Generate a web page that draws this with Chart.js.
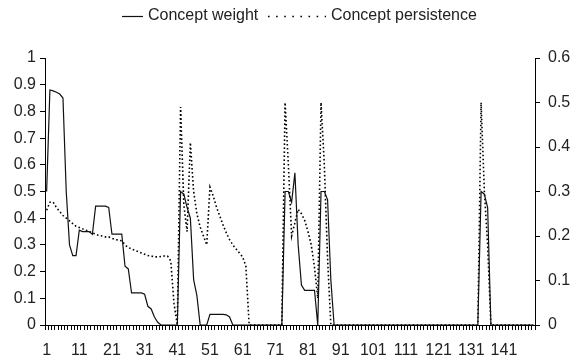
<!DOCTYPE html>
<html>
<head>
<meta charset="utf-8">
<script src="https://cdn.jsdelivr.net/npm/chart.js@4.4.1/dist/chart.umd.min.js"></script>
<style>
  html, body { margin: 0; padding: 0; background: #fff; }
  #wrap { width: 573px; height: 360px; position: relative; }
</style>
</head>
<body>
<div id="wrap"><canvas id="c" width="573" height="360"></canvas></div>
<script>
// ---- data ----
const categories = Array.from({ length: 150 }, (_, i) => String(i + 1));
const xTickLabels = ['1','11','21','31','41','51','61','71','81','91','101','111','121','131','141'];
const leftTicks = [0, 0.1, 0.2, 0.3, 0.4, 0.5, 0.6, 0.7, 0.8, 0.9, 1];
const rightTicks = [0, 0.1, 0.2, 0.3, 0.4, 0.5, 0.6];
const seriesNames = ['Concept weight', 'Concept persistence'];

const conceptWeight = [
  0.50, 0.88, 0.877, 0.872, 0.865, 0.85, 0.50, 0.30, 0.26, 0.26,
  0.355, 0.35, 0.35, 0.35, 0.34, 0.445, 0.445, 0.445, 0.445, 0.44,
  0.34, 0.34, 0.34, 0.34, 0.22, 0.21, 0.12, 0.12, 0.12, 0.12,
  0.115, 0.07, 0.06, 0.03, 0.01, 0, 0, 0, 0, 0,
  0, 0.50, 0.49, 0.44, 0.40, 0.17, 0.11, 0, 0, 0,
  0.04, 0.04, 0.04, 0.04, 0.04, 0.038, 0.03, 0, 0, 0,
  0, 0, 0, 0, 0, 0, 0, 0, 0, 0,
  0, 0, 0, 0.50, 0.50, 0.46, 0.57, 0.30, 0.15, 0.13,
  0.13, 0.13, 0.13, 0, 0.50, 0.50, 0.47, 0.17, 0, 0,
  0, 0, 0, 0, 0, 0, 0, 0, 0, 0,
  0, 0, 0, 0, 0, 0, 0, 0, 0, 0,
  0, 0, 0, 0, 0, 0, 0, 0, 0, 0,
  0, 0, 0, 0, 0, 0, 0, 0, 0, 0,
  0, 0, 0, 0.50, 0.49, 0.44, 0, 0, 0, 0,
  0, 0, 0, 0, 0, 0, 0, 0, 0, 0
];

const conceptPersistence = [
  0.258, 0.276, 0.276, 0.264, 0.255, 0.246, 0.24, 0.234, 0.228, 0.222,
  0.219, 0.216, 0.213, 0.21, 0.207, 0.204, 0.201, 0.2, 0.198, 0.198,
  0.195, 0.192, 0.191, 0.189, 0.18, 0.174, 0.171, 0.168, 0.165, 0.162,
  0.159, 0.156, 0.155, 0.153, 0.153, 0.154, 0.155, 0.155, 0.144, 0.048,
  0, 0.49, 0.27, 0.21, 0.41, 0.30, 0.25, 0.22, 0.20, 0.18,
  0.31, 0.29, 0.265, 0.245, 0.225, 0.207, 0.192, 0.18, 0.171, 0.162,
  0.153, 0.132, 0, 0, 0, 0, 0, 0, 0, 0,
  0, 0, 0, 0.50, 0.36, 0.20, 0.23, 0.26, 0.25, 0.235,
  0.21, 0.18, 0.13, 0.06, 0.50, 0.36, 0.15, 0, 0, 0,
  0, 0, 0, 0, 0, 0, 0, 0, 0, 0,
  0, 0, 0, 0, 0, 0, 0, 0, 0, 0,
  0, 0, 0, 0, 0, 0, 0, 0, 0, 0,
  0, 0, 0, 0, 0, 0, 0, 0, 0, 0,
  0, 0, 0, 0.50, 0.30, 0.18, 0, 0, 0, 0,
  0, 0, 0, 0, 0, 0, 0, 0, 0, 0
];

// ---- chart ----
const FONT = "'Liberation Sans', Arial, sans-serif";
const TXT = '#222222';
const fmt = v => String(Number(v.toFixed(1)));

// Legend drawn as real canvas text, line samples use each dataset's colour/width
const legendLayout = [
  { sampleX: 122, sampleW: 21, textX: 148, dash: [] },
  { sampleX: 268, sampleW: 58, textX: 331, dash: [1.6, 6.5] }
];
const topLegend = {
  id: 'topLegend',
  afterDraw(chart) {
    const ctx = chart.ctx;
    const y = 16;
    chart.data.datasets.forEach((ds, i) => {
      const L = legendLayout[i];
      ctx.save();
      ctx.strokeStyle = ds.borderColor;
      ctx.lineWidth = ds.borderWidth;
      ctx.setLineDash(L.dash);
      ctx.beginPath();
      ctx.moveTo(L.sampleX, y + 0.5);
      ctx.lineTo(L.sampleX + L.sampleW, y + 0.5);
      ctx.stroke();
      ctx.setLineDash([]);
      ctx.fillStyle = TXT;
      ctx.font = '16px ' + FONT;
      ctx.textBaseline = 'middle';
      ctx.textAlign = 'left';
      ctx.fillText(ds.label, L.textX, y);
      ctx.restore();
    });
  }
};

new Chart(document.getElementById('c'), {
  type: 'line',
  data: {
    labels: categories,
    datasets: [
      {
        label: seriesNames[0],
        data: conceptWeight,
        yAxisID: 'y',
        borderColor: '#111111',
        borderWidth: 1.2,
        pointRadius: 0,
        tension: 0,
        fill: false
      },
      {
        label: seriesNames[1],
        data: conceptPersistence,
        yAxisID: 'y1',
        borderColor: '#000000',
        borderWidth: 1.6,
        borderDash: [1.6, 2.4],
        pointRadius: 0,
        tension: 0,
        fill: false
      }
    ]
  },
  options: {
    responsive: false,
    animation: false,
    layout: { padding: 0 },
    plugins: {
      tooltip: { enabled: false },
      legend: { display: false }
    },
    scales: {
      x: {
        type: 'category',
        offset: true,
        grid: { display: true, offset: true, drawOnChartArea: false, drawTicks: true, tickLength: 5, color: '#000', lineWidth: 1 },
        border: { display: true, color: '#000', width: 1 },
        ticks: {
          autoSkip: false, maxRotation: 0, minRotation: 0, padding: 11,
          color: TXT, font: { family: FONT, size: 16 },
          callback: function(val, idx) {
            const lab = categories[idx];
            return xTickLabels.includes(lab) ? lab : '';
          }
        },
        afterFit: s => { s.height = 35; }
      },
      y: {
        position: 'left',
        min: 0, max: 1,
        grid: { display: true, drawOnChartArea: false, drawTicks: true, tickLength: 5, color: '#000' },
        border: { display: true, color: '#000', width: 1 },
        ticks: {
          stepSize: 0.1, padding: 4, color: TXT, font: { family: FONT, size: 16 },
          callback: v => leftTicks.some(t => Math.abs(t - v) < 1e-6) ? fmt(v) : ''
        },
        afterFit: s => { s.width = 45; s.paddingTop = 58; }
      },
      y1: {
        position: 'right',
        min: 0, max: 0.6,
        grid: { display: true, drawOnChartArea: false, drawTicks: true, tickLength: 5, color: '#000' },
        border: { display: true, color: '#000', width: 1 },
        ticks: {
          stepSize: 0.1, padding: 8, color: TXT, font: { family: FONT, size: 16 },
          callback: v => rightTicks.some(t => Math.abs(t - v) < 1e-6) ? fmt(v) : ''
        },
        afterFit: s => { s.width = 38; }
      }
    }
  },
  plugins: [topLegend]
});
</script>
</body>
</html>
